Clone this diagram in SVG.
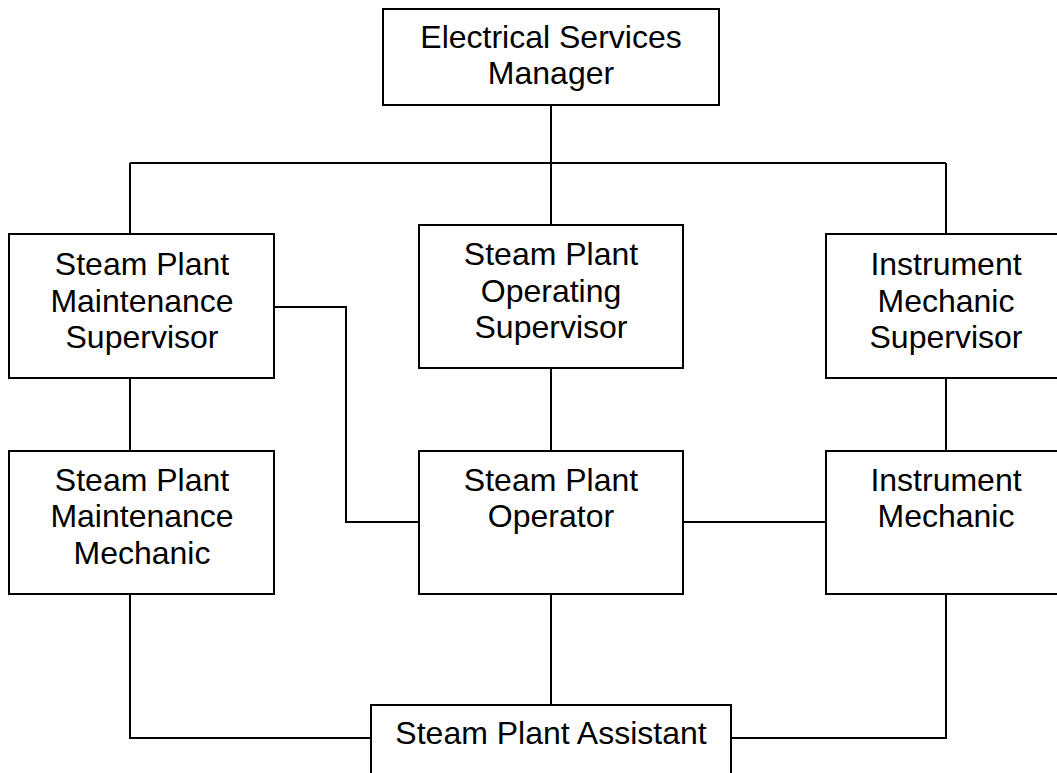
<svg xmlns="http://www.w3.org/2000/svg" width="1057" height="773" viewBox="0 0 1057 773">
<style>
.box{fill:#fff;stroke:#000;stroke-width:2}
.ln{fill:none;stroke:#000;stroke-width:2}
text{font-family:"Liberation Sans",Arial,sans-serif;font-size:32px;fill:#000;text-anchor:middle}
</style>
<rect width="1057" height="773" fill="#fff"/>
<g id="connectors">
<path class="ln" d="M551 105V163M130 163H946M130 163V234M551 163V225M946 163V234"/>
<path class="ln" d="M130 378V451M551 368V451M946 378V451"/>
<path class="ln" d="M274 307H346V522H419M683 522H826"/>
<path class="ln" d="M130 594V738H371M551 594V705M946 594V738H731"/>
</g>
<g id="manager"><rect class="box" x="383" y="9" width="336" height="96"/><text x="551" y="48">Electrical Services</text><text x="551" y="84">Manager</text></g>
<g id="maint-supervisor"><rect class="box" x="9" y="234" width="265" height="144"/><text x="142" y="275">Steam Plant</text><text x="142" y="312">Maintenance</text><text x="142" y="348">Supervisor</text></g>
<g id="op-supervisor"><rect class="box" x="419" y="225" width="264" height="143"/><text x="551" y="265">Steam Plant</text><text x="551" y="302">Operating</text><text x="551" y="338">Supervisor</text></g>
<g id="instr-supervisor"><rect class="box" x="826" y="234" width="240" height="144"/><text x="946" y="275">Instrument</text><text x="946" y="312">Mechanic</text><text x="946" y="348">Supervisor</text></g>
<g id="maint-mechanic"><rect class="box" x="9" y="451" width="265" height="143"/><text x="142" y="491">Steam Plant</text><text x="142" y="527">Maintenance</text><text x="142" y="564">Mechanic</text></g>
<g id="operator"><rect class="box" x="419" y="451" width="264" height="143"/><text x="551" y="491">Steam Plant</text><text x="551" y="527">Operator</text></g>
<g id="instr-mechanic"><rect class="box" x="826" y="451" width="240" height="143"/><text x="946" y="491">Instrument</text><text x="946" y="527">Mechanic</text></g>
<g id="assistant"><rect class="box" x="371" y="705" width="360" height="80"/><text x="551" y="744">Steam Plant Assistant</text></g>
</svg>
